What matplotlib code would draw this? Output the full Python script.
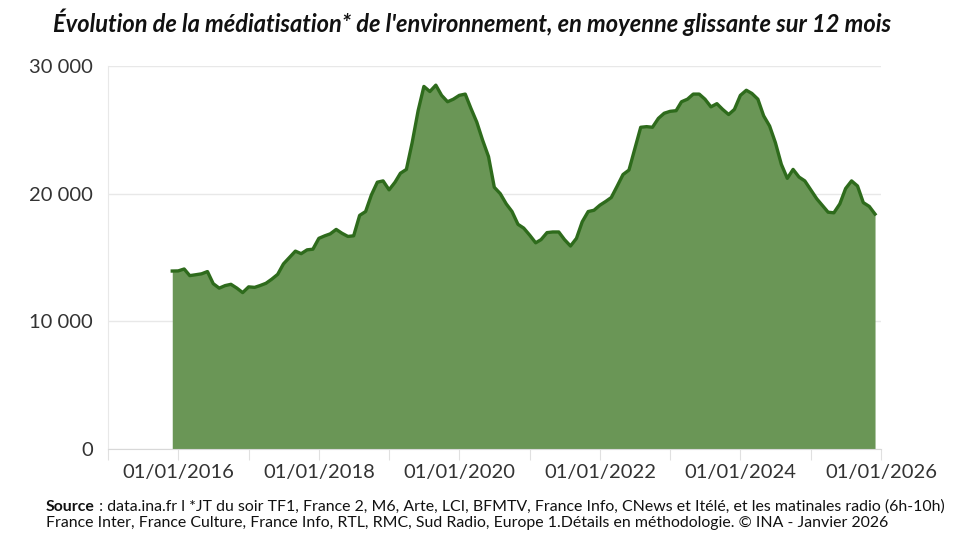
import matplotlib
matplotlib.use("Agg")
import matplotlib.pyplot as plt
import pandas as pd

# Data: 12-month rolling average, monthly from Dec 2015 to Dec 2025
start_month = "2015-12-01"
values = [
    13.94, 13.95, 14.1, 13.58, 13.65, 13.72, 13.9, 12.95, 12.6, 12.8,
    12.9, 12.6, 12.25, 12.7, 12.66, 12.8, 12.98, 13.3, 13.68, 14.5,
    15.0, 15.5, 15.3, 15.6, 15.65, 16.5, 16.7, 16.85, 17.2, 16.9,
    16.65, 16.7, 18.3, 18.6, 19.9, 20.9, 21.0, 20.3, 20.9, 21.6,
    21.9, 24.0, 26.5, 28.4, 28.0, 28.5, 27.7, 27.2, 27.4, 27.7,
    27.8, 26.7, 25.6, 24.2, 22.9, 20.5, 20.0, 19.2, 18.6, 17.6,
    17.3, 16.75, 16.15, 16.4, 16.95, 17.0, 17.0, 16.4, 15.9, 16.5,
    17.8, 18.6, 18.7, 19.1, 19.4, 19.7, 20.6, 21.5, 21.85, 23.5,
    25.2, 25.25, 25.2, 25.9, 26.3, 26.45, 26.5, 27.2, 27.4, 27.8,
    27.8, 27.4, 26.8, 27.05, 26.6, 26.2, 26.6, 27.7, 28.1, 27.85,
    27.4, 26.1, 25.3, 24.0, 22.3, 21.2, 21.9, 21.3, 21.0, 20.3,
    19.6, 19.1, 18.55, 18.5, 19.2, 20.4, 21.0, 20.6, 19.3, 19.0,
    18.4,
]
values = [v * 1000 for v in values]
dates = pd.date_range(start_month, periods=len(values), freq="MS")

title = "Évolution de la médiatisation* de l'environnement, en moyenne glissante sur 12 mois"
source_bold = "Source"
source_line1 = " : data.ina.fr l *JT du soir TF1, France 2, M6, Arte, LCI, BFMTV, France Info, CNews et Itélé, et les matinales radio (6h-10h)"
source_line2 = "France Inter, France Culture, France Info, RTL, RMC, Sud Radio, Europe 1.Détails en méthodologie. © INA - Janvier 2026"

plt.rcParams["font.family"] = ["Lato", "DejaVu Sans"]

fig = plt.figure(figsize=(9.66, 5.38), dpi=100)
ax = fig.add_axes([108 / 966, 1 - 449 / 538, (881 - 108) / 966, (449 - 66) / 538])

ax.fill_between(dates, values, 0, color="#6a9656", linewidth=0)
ax.plot(dates, values, color="#2e6b1c", linewidth=2.4, solid_joinstyle="round")

ax.set_xlim(pd.Timestamp("2015-01-01"), pd.Timestamp("2026-01-01"))
ax.set_ylim(0, 30000)

# axes styling
for s in ["top", "right"]:
    ax.spines[s].set_visible(False)
ax.spines["left"].set_color("#e8e8e8")
ax.spines["bottom"].set_color("#d8d8d8")
ax.set_yticks([0, 10000, 20000, 30000])
ax.set_yticklabels(["0", "10 000", "20 000", "30 000"])
ax.yaxis.grid(True, color="#e8e8e8", linewidth=1)
ax.set_axisbelow(True)
ax.tick_params(axis="y", length=0, pad=11, labelsize=14.5, labelcolor="#333333")

years = pd.date_range("2015-01-01", "2026-01-01", freq="YS")
ax.set_xticks(years)
ax.set_xticklabels(["01/01/%d" % d.year if d.year % 2 == 0 else "" for d in years])
ax.tick_params(axis="x", length=8, color="#e0e0e0", pad=3, labelsize=14.5, labelcolor="#333333")

fig.text(472 / 966, 1 - 22 / 538, title, ha="center", va="center", fontsize=17,
         fontweight="bold", fontstyle="italic", color="#111111")

# source text: bold "Source" then regular text
fig.canvas.draw()
renderer = fig.canvas.get_renderer()
t = fig.text(46 / 966, 1 - 507 / 538, source_bold, fontsize=11.4, fontweight="bold",
             va="center", ha="left", color="#111111")
bb = t.get_window_extent(renderer=renderer)
fig.text(bb.x1 / fig.bbox.width, 1 - 507 / 538, source_line1, fontsize=11.4,
         va="center", ha="left", color="#111111")
fig.text(46 / 966, 1 - 523 / 538, source_line2, fontsize=11.4,
         va="center", ha="left", color="#111111")

fig.savefig("out.png", dpi=100)
